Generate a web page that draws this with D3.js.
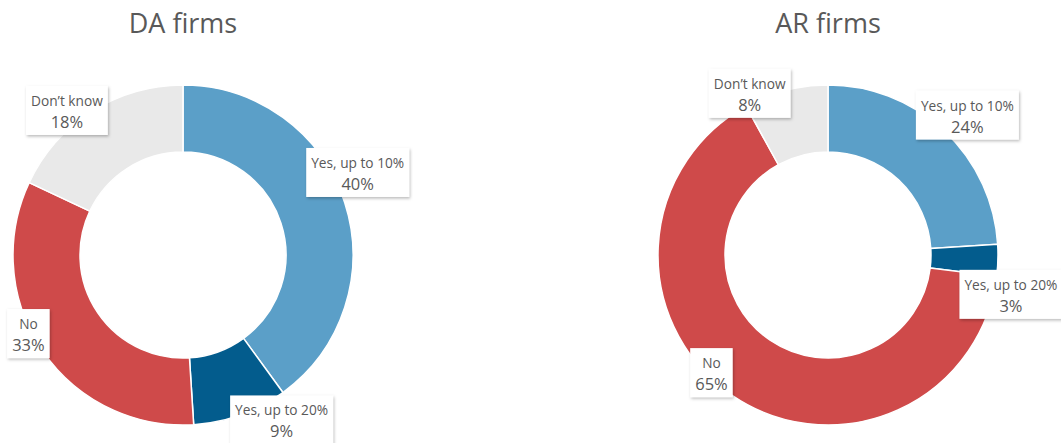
<!DOCTYPE html>
<html>
<head>
<meta charset="utf-8">
<script src="https://cdn.jsdelivr.net/npm/d3@7"></script>
<style>
  html, body { margin: 0; padding: 0; background: #fff; }
  svg { display: block; font-family: "Open Sans", "Noto Sans", sans-serif; }
</style>
</head>
<body>
<svg id="chart" width="1061" height="443"></svg>
<script>
// Survey answers, in clockwise order starting at 12 o'clock
const categories = ["Yes, up to 10%", "Yes, up to 20%", "No", "Don\u2019t know"];
const daValues = [40, 9, 33, 18];
const arValues = [24, 3, 65, 8];
const chartTitles = ["DA firms", "AR firms"];

const colors = ["#5B9FC8", "#035C8D", "#CF4A4A", "#E9E9E9"];
const textColor = "#595959";

// Doughnut layout: centre, radii and label nudges (box centre relative to the
// outer rim point at each slice's mid-angle)
const panels = [
  { title: chartTitles[0], values: daValues, cx: 183, cy: 255,
    nudges: [[13, -30], [41, 5], [-14, -17], [-25, -1]] },
  { title: chartTitles[1], values: arValues, cx: 828, cy: 255,
    nudges: [[23, -16], [13, 34], [-21, -23], [-36, 3]] }
];
const outerR = 170, innerR = 103;

const svg = d3.select("#chart");

// soft drop shadow for the label boxes
const defs = svg.append("defs");
const f = defs.append("filter").attr("id", "shadow")
  .attr("x", "-20%").attr("y", "-20%").attr("width", "140%").attr("height", "150%");
f.append("feDropShadow").attr("dx", 1).attr("dy", 1.5)
  .attr("stdDeviation", 1.5).attr("flood-color", "#000").attr("flood-opacity", 0.28);

const pie = d3.pie().sort(null).value(d => d.value);
const arc = d3.arc().innerRadius(innerR).outerRadius(outerR);
const color = d3.scaleOrdinal().domain(categories).range(colors);

panels.forEach(p => {
  const data = categories.map((c, i) => ({ category: c, value: p.values[i] }));
  const arcs = pie(data);

  svg.append("text")
    .attr("x", p.cx).attr("y", 33)
    .attr("text-anchor", "middle")
    .attr("font-size", 27)
    .attr("fill", textColor)
    .text(p.title);

  const g = svg.append("g").attr("transform", `translate(${p.cx},${p.cy})`);

  g.selectAll("path.slice").data(arcs).join("path")
    .attr("class", "slice")
    .attr("d", arc)
    .attr("fill", d => color(d.data.category))
    .attr("stroke", "#fff")
    .attr("stroke-width", 1.5)
    .attr("stroke-linejoin", "round");

  const labels = g.selectAll("g.label").data(arcs).join("g").attr("class", "label");

  labels.each(function(d, i) {
    const sel = d3.select(this);
    const mid = (d.startAngle + d.endAngle) / 2;
    const ax = outerR * Math.sin(mid) + p.nudges[i][0];
    const ay = -outerR * Math.cos(mid) + p.nudges[i][1];

    const rect = sel.append("rect").attr("fill", "#fff").attr("filter", "url(#shadow)");
    const t1 = sel.append("text")
      .attr("text-anchor", "middle").attr("font-size", 13.7).attr("fill", textColor)
      .text(d.data.category);
    const t2 = sel.append("text")
      .attr("text-anchor", "middle").attr("font-size", 16.5).attr("fill", textColor)
      .text(d.data.value + "%");

    const w = Math.max(t1.node().getComputedTextLength(), t2.node().getComputedTextLength()) + 10;
    const h = 49;
    const top = ay - h / 2;
    rect.attr("x", ax - w / 2).attr("y", top).attr("width", w).attr("height", h);
    t1.attr("x", ax).attr("y", top + 20);
    t2.attr("x", ax).attr("y", top + 42);
  });
});
</script>
</body>
</html>
